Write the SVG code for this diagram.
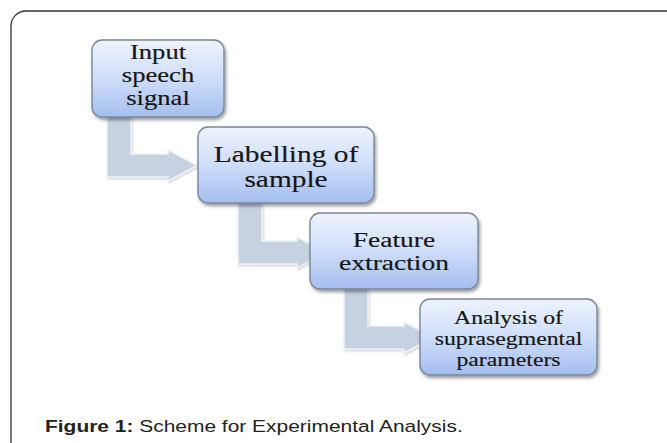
<svg xmlns="http://www.w3.org/2000/svg" width="667" height="443" viewBox="0 0 667 443">
<defs>
<linearGradient id="boxg" x1="0" y1="0" x2="0" y2="1">
<stop offset="0" stop-color="#eef3fd"/>
<stop offset="0.45" stop-color="#d3e0fa"/>
<stop offset="1" stop-color="#a4bef0"/>
</linearGradient>
<filter id="sh" x="-10%" y="-10%" width="125%" height="135%">
<feDropShadow dx="1.5" dy="2.5" stdDeviation="1.8" flood-color="#000" flood-opacity="0.38"/>
</filter>
<filter id="ash" x="-10%" y="-10%" width="125%" height="130%">
<feDropShadow dx="1" dy="1.5" stdDeviation="1.2" flood-color="#000" flood-opacity="0.18"/>
</filter>
</defs>
<style>
.box{fill:url(#boxg);stroke:#7b8697;stroke-width:1.4;filter:url(#sh)}
.arr{fill:#c6d1e2;stroke:#eef2f7;stroke-width:1.5;filter:url(#ash)}
.t{font-family:"Liberation Serif","Times New Roman",serif;fill:#151515;stroke:#151515;stroke-width:0.15;text-anchor:middle}
.cap{font-family:"Liberation Sans",Arial,sans-serif;font-size:16.5px;fill:#222}
</style>
<rect x="11" y="11" width="680" height="450" rx="15" fill="#fff" stroke="#333" stroke-width="1.3"/>
<g id="connectors">
<path class="arr" d="M107 115 H131 V154 H168 V150 L197 165.5 L168 181 V177 H107 Z"/>
<path class="arr" d="M238 201 H262 V241 H297 V237 L326 252.5 L297 268 V264 H238 Z"/>
<path class="arr" d="M344 287 H368 V326 H404 V322 L433 337.5 L404 353 V349 H344 Z"/>
</g>
<g id="node1">
<rect class="box" x="92" y="40" width="132" height="77" rx="10"/>
<text class="t" font-size="20.5" transform="translate(158,59) scale(1.3,1)">Input</text>
<text class="t" font-size="20.5" transform="translate(158,82) scale(1.3,1)">speech</text>
<text class="t" font-size="20.5" transform="translate(158,105) scale(1.3,1)">signal</text>
</g>
<g id="node2">
<rect class="box" x="198" y="127" width="176" height="76" rx="10"/>
<text class="t" font-size="23.5" transform="translate(286,162) scale(1.25,1)">Labelling of</text>
<text class="t" font-size="23.5" transform="translate(286,187) scale(1.25,1)">sample</text>
</g>
<g id="node3">
<rect class="box" x="310" y="213" width="168" height="76" rx="10"/>
<text class="t" font-size="22" transform="translate(394,247) scale(1.25,1)">Feature</text>
<text class="t" font-size="22" transform="translate(394,270) scale(1.25,1)">extraction</text>
</g>
<g id="node4">
<rect class="box" x="420" y="299" width="177" height="76" rx="10"/>
<text class="t" font-size="19" transform="translate(508.5,324) scale(1.25,1)">Analysis of</text>
<text class="t" font-size="19" transform="translate(508.5,345) scale(1.25,1)">suprasegmental</text>
<text class="t" font-size="19" transform="translate(508.5,366) scale(1.25,1)">parameters</text>
</g>
<text class="cap" transform="translate(45,432) scale(1.27,1)"><tspan font-weight="bold">Figure 1:</tspan> Scheme for Experimental Analysis.</text>
</svg>
